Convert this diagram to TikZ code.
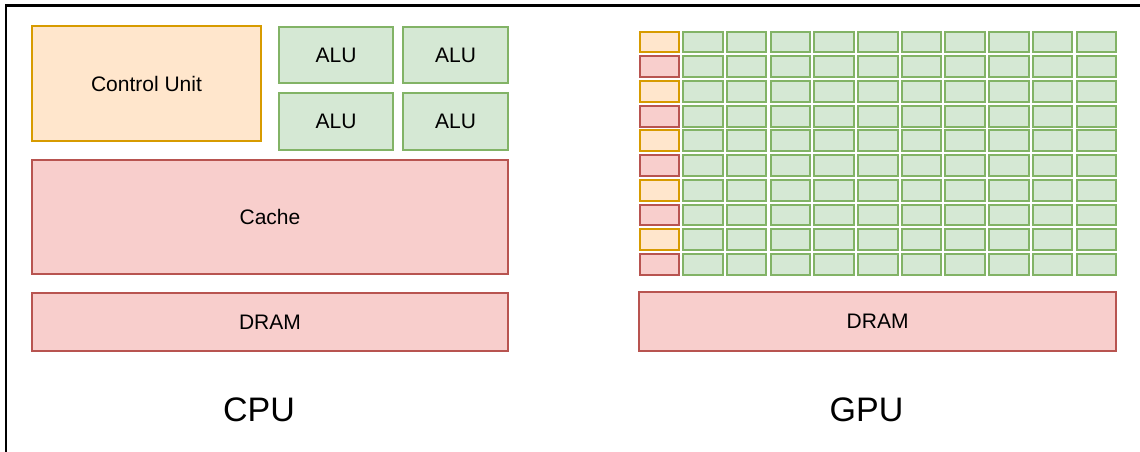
\documentclass[tikz,border=0pt]{standalone}
\usepackage{fontspec}
\setmainfont{Liberation Sans}
\usepackage{tikz}
\usetikzlibrary{positioning}
\definecolor{ctlfill}{HTML}{FFE6CC}
\definecolor{ctldraw}{HTML}{D79B00}
\definecolor{memfill}{HTML}{F8CECC}
\definecolor{memdraw}{HTML}{B85450}
\definecolor{alufill}{HTML}{D5E8D4}
\definecolor{aludraw}{HTML}{82B366}
\tikzset{
  unit/.style={inner sep=0pt, outer sep=0pt, font=\fontsize{21}{25}\selectfont},
  ctl/.style={unit, draw=ctldraw, fill=ctlfill, line width=1.2pt},
  alu/.style={unit, draw=aludraw, fill=alufill, line width=1.2pt},
  mem/.style={unit, draw=memdraw, fill=memfill, line width=1.2pt},
  cell/.style={#1, line width=2pt, minimum width=39.5pt, minimum height=20.8pt},
  title/.style={font=\fontsize{34}{40}\selectfont, anchor=base},
}

\begin{document}
\begin{tikzpicture}[x=1pt, y=-1pt]
    \useasboundingbox (0,0) rectangle (1140,451);
    \fill[white] (0,0) rectangle (1140,451);
    \draw[line width=2.5pt] (6,5.3) rectangle (1160,470);

    % CPU side
    \node[ctl, minimum width=229pt, minimum height=115pt] (cu) at (146.5,83.5) {Control Unit};
    \node[alu, minimum width=114pt, minimum height=56pt] (alu1) at (336,55) {ALU};
    \node[alu, minimum width=105pt, minimum height=56pt] (alu2) at (455.5,55) {ALU};
    \node[alu, minimum width=114pt, minimum height=57pt] (alu3) at (336,121.5) {ALU};
    \node[alu, minimum width=105pt, minimum height=57pt] (alu4) at (455.5,121.5) {ALU};
    \node[mem, minimum width=476pt, minimum height=114pt] (cache) at (270,217) {Cache};
    \node[mem, minimum width=476pt, minimum height=58pt] (cdram) at (270,322) {DRAM};
    \node[title] (cpu) at (259,421) {CPU};

    % GPU side: one control/cache cell per row, then ten ALUs
    \foreach \r in {0,2,...,8}
      \node[cell=ctl] (g-\r-0) at (659.3,42+24.72*\r) {};
    \foreach \r in {1,3,...,9}
      \node[cell=mem] (g-\r-0) at (659.3,42+24.72*\r) {};
    \foreach \r in {0,...,9}
      \foreach \c in {1,...,10}
        \node[cell=alu] (g-\r-\c) at (659.3+43.7*\c,42+24.72*\r) {};
    \node[mem, line width=2pt, minimum width=476.5pt, minimum height=58.5pt] (gdram) at (877.6,321.5) {DRAM};
    \node[title] (gpu) at (866.5,421) {GPU};
  \end{tikzpicture}
\end{document}
